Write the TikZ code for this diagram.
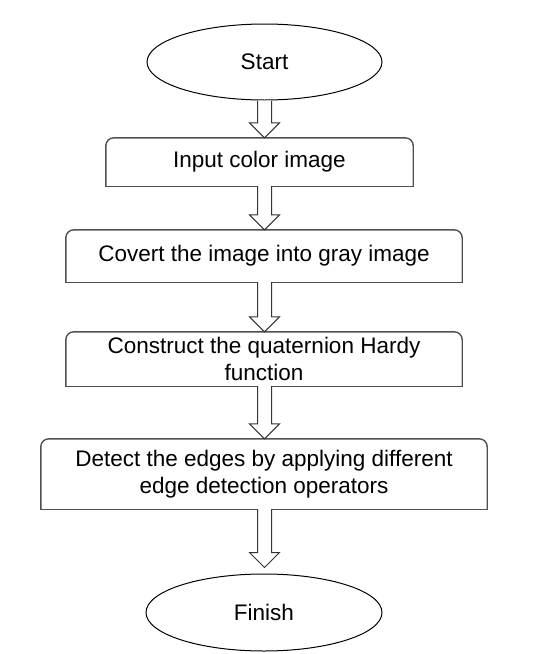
\documentclass[tikz,border=0pt]{standalone}
\usepackage{fontspec}
\setmainfont{Liberation Sans}
\usetikzlibrary{shapes.geometric,calc}
\definecolor{boxline}{HTML}{505050}
\tikzset{
  txt/.style={font=\fontsize{22.5}{26.5}\selectfont, align=center, text=black},
  terminal/.style={ellipse, draw=black, line width=1pt, inner sep=0pt, txt},
  stepbox/.style={rectangle, draw=none, inner sep=0pt, txt},
  boxedge/.style={draw=boxline, line width=1.4pt},
  arrowline/.style={draw=black!80, line width=1pt, line join=miter, fill=white},
}
\newcommand\boxoutline[1]{%
  \draw[boxedge, rounded corners=8pt] (#1.south west) -- (#1.north west) -- (#1.north east) -- (#1.south east);
  \draw[boxedge, line cap=rect] (#1.south west) -- (#1.south east);
}
\newcommand\blockarrow[3]{%
  \draw[arrowline] let \p0=(start.center), \p1=(#1.south), \p2=(#2.north) in
    (\x0-7pt,\y1) -- (\x0-7pt,\y2+#3+15pt) -- (\x0-15pt,\y2+#3+15pt) -- (\x0,\y2+#3)
    -- (\x0+15pt,\y2+#3+15pt) -- (\x0+7pt,\y2+#3+15pt) -- (\x0+7pt,\y1);
}
\begin{document}
\begin{tikzpicture}[x=1pt,y=-1pt]
\useasboundingbox (0,0) rectangle (545,654);
\node[terminal, minimum width=235pt, minimum height=76pt] (start) at (264.5,62) {Start};
\node[stepbox, minimum width=307pt, minimum height=48pt] (b1) at (259.5,162) {Input color image};
\node[stepbox, minimum width=396pt, minimum height=52pt] (b2) at (264,256) {Covert the image into gray image};
\node[stepbox, minimum width=396pt, minimum height=54pt] (b3) at (264,359) {Construct the quaternion Hardy\\function};
\node[stepbox, minimum width=446pt, minimum height=70pt] (b4) at (264,474) {Detect the edges by applying different\\edge detection operators};
\node[terminal, minimum width=236pt, minimum height=77pt] (finish) at (264,612.5) {Finish};
\boxoutline{b1}
\boxoutline{b2}
\boxoutline{b3}
\boxoutline{b4}
\blockarrow{start}{b1}{0pt}
\blockarrow{b1}{b2}{0pt}
\blockarrow{b2}{b3}{0pt}
\blockarrow{b3}{b4}{0pt}
\blockarrow{b4}{finish}{6pt}
\end{tikzpicture}
\end{document}
